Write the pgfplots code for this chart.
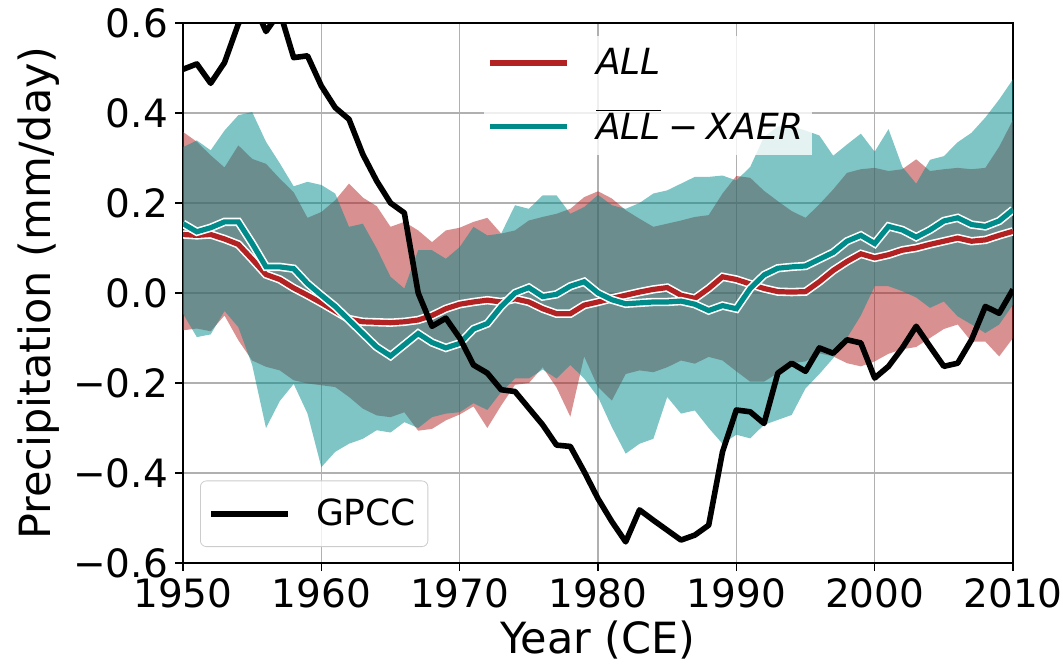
\documentclass[border=0pt]{standalone}
\usepackage{pgfplots}
\pgfplotsset{compat=1.18}
\usepackage{pgfplotstable}
\usepgfplotslibrary{fillbetween}
\usepackage{fontspec}
\setmainfont{DejaVu Sans}
\definecolor{allred}{RGB}{178,34,34}
\definecolor{xteal}{RGB}{0,139,139}
\definecolor{gridgray}{RGB}{176,176,176}

\pgfplotstableread{
year gpcc allm allu alll xm xu xl
1950 0.497 0.130 0.358 -0.083 0.154 0.324 -0.046
1951 0.509 0.128 0.336 -0.079 0.136 0.339 -0.098
1952 0.466 0.130 0.306 -0.085 0.145 0.317 -0.092
1953 0.512 0.120 0.279 -0.050 0.158 0.361 -0.040
1954 0.598 0.108 0.328 -0.105 0.158 0.395 -0.076
1955 0.650 0.075 0.298 -0.150 0.110 0.402 -0.160
1956 0.581 0.041 0.287 -0.164 0.058 0.336 -0.300
1957 0.625 0.030 0.254 -0.172 0.058 0.288 -0.240
1958 0.523 0.011 0.224 -0.194 0.054 0.237 -0.202
1959 0.527 -0.005 0.167 -0.201 0.021 0.247 -0.268
1960 0.460 -0.022 0.180 -0.205 -0.005 0.240 -0.387
1961 0.412 -0.040 0.206 -0.209 -0.030 0.221 -0.353
1962 0.386 -0.058 0.243 -0.231 -0.060 0.147 -0.335
1963 0.308 -0.064 0.212 -0.257 -0.090 0.154 -0.324
1964 0.249 -0.065 0.193 -0.272 -0.120 0.099 -0.305
1965 0.200 -0.066 0.147 -0.276 -0.140 0.036 -0.310
1966 0.178 -0.064 0.158 -0.265 -0.115 0.010 -0.287
1967 0.000 -0.060 0.139 -0.306 -0.090 0.095 -0.300
1968 -0.074 -0.050 0.113 -0.302 -0.110 0.095 -0.276
1969 -0.056 -0.035 0.139 -0.283 -0.122 0.076 -0.268
1970 -0.100 -0.025 0.145 -0.270 -0.112 0.102 -0.265
1971 -0.160 -0.020 0.158 -0.252 -0.080 0.147 -0.245
1972 -0.178 -0.016 0.167 -0.300 -0.068 0.128 -0.260
1973 -0.215 -0.020 0.132 -0.250 -0.030 0.132 -0.220
1974 -0.219 -0.013 0.139 -0.204 0.000 0.195 -0.190
1975 -0.256 -0.020 0.161 -0.200 0.012 0.187 -0.190
1976 -0.293 -0.035 0.169 -0.165 -0.008 0.217 -0.170
1977 -0.338 -0.046 0.176 -0.210 -0.003 0.217 -0.190
1978 -0.341 -0.046 0.187 -0.275 0.015 0.176 -0.160
1979 -0.397 -0.027 0.213 -0.141 0.025 0.191 -0.190
1980 -0.457 -0.020 0.226 -0.209 0.000 0.218 -0.231
1981 -0.508 -0.012 0.210 -0.239 -0.015 0.195 -0.298
1982 -0.553 -0.005 0.184 -0.180 -0.024 0.187 -0.357
1983 -0.482 0.002 0.165 -0.172 -0.022 0.200 -0.335
1984 -0.505 0.008 0.147 -0.176 -0.020 0.221 -0.324
1985 -0.527 0.012 0.154 -0.165 -0.020 0.228 -0.231
1986 -0.549 -0.005 0.161 -0.150 -0.018 0.243 -0.268
1987 -0.538 -0.012 0.169 -0.157 -0.025 0.258 -0.261
1988 -0.516 0.010 0.173 -0.142 -0.039 0.258 -0.300
1989 -0.353 0.036 0.221 -0.150 -0.028 0.261 -0.335
1990 -0.260 0.030 0.260 -0.174 -0.035 0.250 -0.315
1991 -0.264 0.020 0.256 -0.197 0.010 0.280 -0.323
1992 -0.290 0.010 0.227 -0.197 0.040 0.347 -0.293
1993 -0.178 0.003 0.204 -0.178 0.055 0.370 -0.282
1994 -0.156 0.002 0.182 -0.156 0.058 0.370 -0.271
1995 -0.174 0.003 0.167 -0.152 0.060 0.361 -0.212
1996 -0.122 0.025 0.197 -0.134 0.075 0.350 -0.180
1997 -0.134 0.050 0.230 -0.141 0.090 0.305 -0.145
1998 -0.104 0.070 0.267 -0.156 0.115 0.330 -0.100
1999 -0.111 0.087 0.275 -0.163 0.128 0.354 -0.050
2000 -0.189 0.078 0.278 -0.152 0.110 0.314 0.015
2001 -0.163 0.085 0.271 -0.135 0.148 0.364 0.015
2002 -0.122 0.095 0.275 -0.125 0.140 0.280 0.004
2003 -0.074 0.100 0.297 -0.120 0.124 0.243 -0.010
2004 -0.119 0.108 0.271 -0.100 0.140 0.296 -0.033
2005 -0.163 0.115 0.275 -0.080 0.160 0.304 -0.019
2006 -0.156 0.122 0.278 -0.070 0.167 0.335 -0.052
2007 -0.104 0.115 0.275 -0.108 0.152 0.356 -0.070
2008 -0.030 0.118 0.278 -0.108 0.148 0.390 -0.089
2009 -0.045 0.128 0.325 -0.141 0.160 0.430 -0.070
2010 0.008 0.137 0.385 -0.100 0.185 0.475 -0.026
}\data

\pgfplotsset{
  commonaxis/.style={
    at={(91.5pt,50pt)}, anchor=south west,
    scale only axis, width=415pt, height=270pt,
    xmin=1950, xmax=2010, ymin=-0.6, ymax=0.6,
  },
}

\begin{document}
\begin{tikzpicture}
\begin{axis}[
  commonaxis,
  axis line style={black, line width=0.8pt},
  xtick={1950,1960,1970,1980,1990,2000,2010},
  xticklabels={1950,1960,1970,1980,1990,2000,2010},
  ytick={-0.6,-0.4,-0.2,0,0.2,0.4,0.6},
  yticklabels={−0.6,−0.4,−0.2,0.0,0.2,0.4,0.6},
  xtick pos=bottom, ytick pos=left,
  tick align=outside,
  major tick length=4pt,
  tick style={black, line width=0.8pt},
  tick label style={font=\fontsize{19.5pt}{22pt}\selectfont},
  label style={font=\fontsize{21.5pt}{24pt}\selectfont},
  xlabel={Year (CE)},
  ylabel={Precipitation (mm/day)},
  grid=major,
  major grid style={gridgray, line width=0.7pt},
  legend style={at={(axis description cs:0.0205,0.0296)}, anchor=south west,
    draw=black!20, rounded corners=3pt, fill=white, fill opacity=0.8, text opacity=1,
    font=\fontsize{18pt}{20pt}\selectfont, inner xsep=4pt, inner ysep=7pt,
    /tikz/every odd column/.append style={column sep=10.5pt}},
  legend image code/.code={\draw[#1] (0pt,0pt) -- (38.5pt,0pt);},
]
\addplot[name path=ru, draw=none, forget plot] table[x=year, y=allu] {\data};
\addplot[name path=rl, draw=none, forget plot] table[x=year, y=alll] {\data};
\addplot[name path=tu, draw=none, forget plot] table[x=year, y=xu] {\data};
\addplot[name path=tl, draw=none, forget plot] table[x=year, y=xl] {\data};
\addplot[fill=allred, fill opacity=0.5, draw=none, forget plot] fill between[of=ru and rl];
\addplot[fill=xteal, fill opacity=0.5, draw=none, forget plot] fill between[of=tu and tl];
\addplot[white, line width=4.2pt, forget plot] table[x=year, y=allm] {\data};
\addplot[allred, line width=2.6pt, forget plot] table[x=year, y=allm] {\data};
\addplot[white, line width=4.2pt, forget plot] table[x=year, y=xm] {\data};
\addplot[xteal, line width=2.6pt, forget plot] table[x=year, y=xm] {\data};
\addplot[black, line width=2.8pt, line join=round] table[x=year, y=gpcc] {\data};
\addlegendentry{GPCC}
\end{axis}
\begin{axis}[
  commonaxis,
  hide axis,
  legend style={at={(axis description cs:0.362,0.976)}, anchor=north west,
    draw=none, fill=white, fill opacity=0.8, text opacity=1,
    font=\fontsize{18pt}{20pt}\selectfont, inner xsep=2pt, inner ysep=4pt, row sep=12pt,
    /tikz/every odd column/.append style={column sep=11pt}},
  legend cell align=left,
  legend image code/.code={\draw[#1] (0pt,0pt) -- (38.5pt,0pt);},
]
\addlegendimage{allred, line width=2.6pt}
\addlegendentry{\textit{ALL}}
\addlegendimage{xteal, line width=2.6pt}
\addlegendentry{$\overline{\hbox{\textit{ALL}}}$\hspace{0.22em}−\hspace{0.22em}\textit{XAER}}
\end{axis}
\pgfresetboundingbox
\path[use as bounding box] (0pt,0pt) rectangle (531.5pt,331.5pt);
\end{tikzpicture}
\end{document}
